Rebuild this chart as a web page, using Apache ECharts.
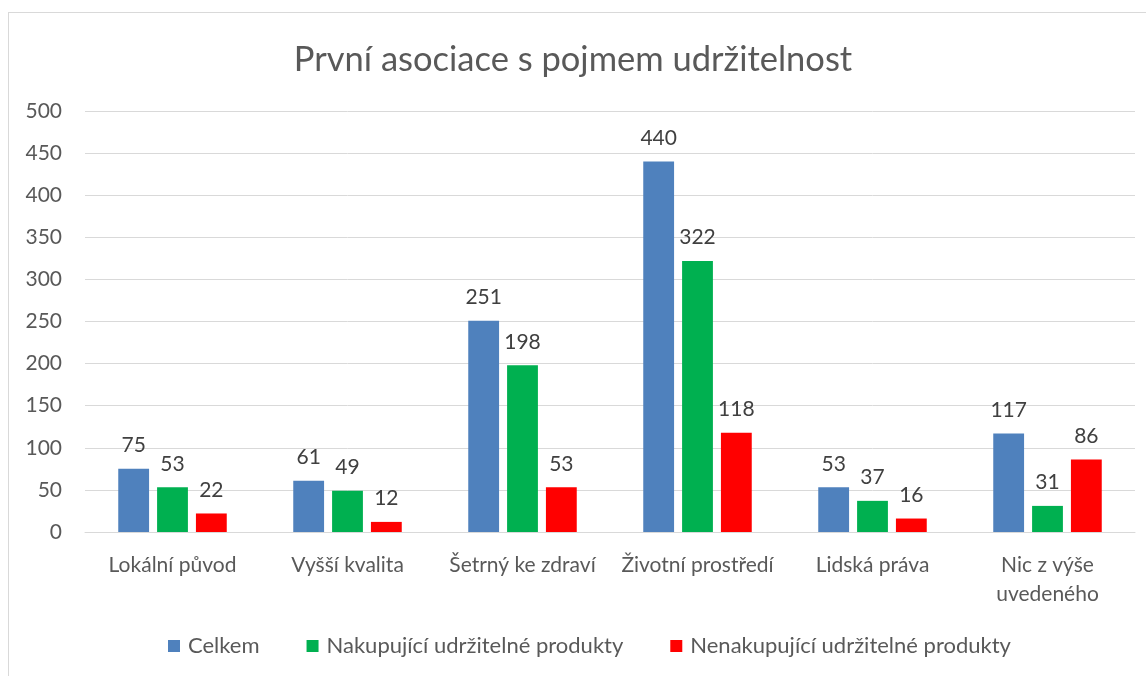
<!DOCTYPE html>
<html>
<head>
<meta charset="utf-8">
<script src="https://cdn.jsdelivr.net/npm/echarts@6/dist/echarts.min.js"></script>
<style>
html,body{margin:0;padding:0;background:#fff;}
#frame{position:absolute;left:8px;top:12px;width:1150px;height:680px;border:1px solid #d9d9d9;box-sizing:border-box;}
#chart{position:absolute;left:0;top:0;width:1146px;height:676px;}
</style>
</head>
<body>
<div id="frame"></div>
<div id="chart"></div>
<script>
var categories = ['Lokální původ', 'Vyšší kvalita', 'Šetrný ke zdraví', 'Životní prostředí', 'Lidská práva', 'Nic z výše\nuvedeného'];
var celkem = [75, 61, 251, 440, 53, 117];
var nakupujici = [53, 49, 198, 322, 37, 31];
var nenakupujici = [22, 12, 53, 118, 16, 86];
var seriesNames = ['Celkem', 'Nakupující udržitelné produkty', 'Nenakupující udržitelné produkty'];
var colors = ['#4f81bd', '#00b050', '#ff0000'];

var font = 'Lato, "Open Sans", sans-serif';
var chart = echarts.init(document.getElementById('chart'));
function mk(name, data, color) {
  return {
    name: name, type: 'bar', data: data,
    itemStyle: {color: color},
    barGap: '26%', barCategoryGap: '38%',
    label: {show: true, position: 'top', distance: 13, color: '#404040', fontSize: 21, fontFamily: font},
    animation: false
  };
}
chart.setOption({
  animation: false,
  title: {text: 'První asociace s pojmem udržitelnost', left: 'center', top: 37,
    textStyle: {fontSize: 34.5, fontWeight: 'normal', color: '#595959', fontFamily: font}},
  legend: {bottom: 14, left: 163, itemWidth: 12, itemHeight: 12, itemGap: 47, icon: 'rect',
    textStyle: {fontSize: 22, color: '#595959', fontFamily: font, padding: [0, 0, 0, 3]},
    data: seriesNames},
  grid: {left: 85, right: 11, top: 111, bottom: 144},
  xAxis: {type: 'category', data: categories,
    axisLine: {lineStyle: {color: '#d9d9d9'}}, axisTick: {show: false},
    axisLabel: {color: '#595959', fontSize: 21, fontFamily: font, margin: 19, lineHeight: 29, interval: 0}},
  yAxis: {type: 'value', min: 0, max: 500, interval: 50,
    axisLine: {show: false}, axisTick: {show: false},
    splitLine: {lineStyle: {color: '#d9d9d9'}},
    axisLabel: {color: '#595959', fontSize: 21, fontFamily: font, margin: 23}},
  series: [mk(seriesNames[0], celkem, colors[0]), mk(seriesNames[1], nakupujici, colors[1]), mk(seriesNames[2], nenakupujici, colors[2])]
});
</script>
</body>
</html>
